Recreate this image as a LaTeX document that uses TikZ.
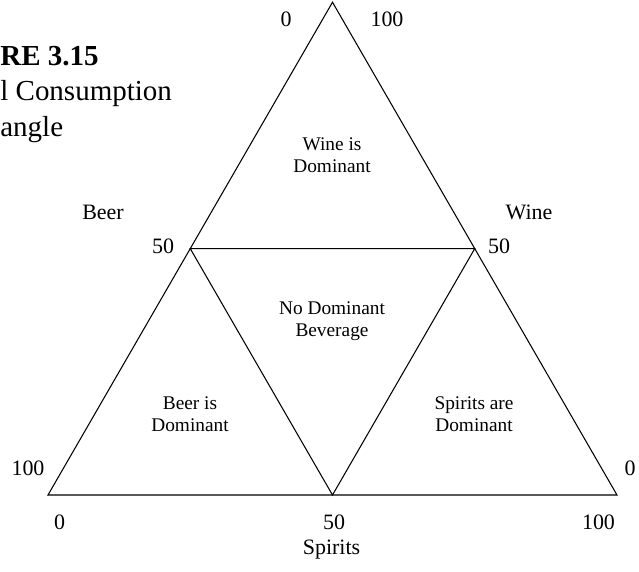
\documentclass[tikz,border=0pt]{standalone}
\usepackage{fontspec}
\setmainfont{Liberation Serif}
\begin{document}
\begin{tikzpicture}
      \useasboundingbox (0,0) rectangle (12.78,11.42);
      \tikzstyle{every node} = [inner sep = 0pt, font = \fontsize{12.5}{15}\selectfont]
      \tikzstyle{lbl} = [anchor = base]
      \tikzstyle{zone} = [align = center, font = \fontsize{11}{12.7}\selectfont]
      \tikzstyle{title} = [anchor = base west, align = left, font = \fontsize{16.5}{20.1}\selectfont]

      \coordinate(L) at (0.96,1.52);
      \coordinate(R) at (12.34,1.52);
      \coordinate(T) at (6.65,11.375);
      \coordinate(ML) at (3.805,6.4475);
      \coordinate(MR) at (9.495,6.4475);
      \coordinate(MB) at (6.65,1.52);

      \draw[line width = 0.6pt] (L) -- (T) -- (R) -- cycle;
      \draw[line width = 0.6pt] (ML) -- (MR) -- (MB) -- cycle;

      \node[title](fig) at (0,8.7) {\textbf{RE 3.15}\\l Consumption\\angle};

      \node[lbl](t0) at (5.72,10.89) {0};
      \node[lbl](t100) at (7.74,10.89) {100};
      \node[lbl](beer) at (2.06,7.04) {Beer};
      \node[lbl](wine) at (10.58,7.04) {Wine};
      \node[lbl](l50) at (3.26,6.36) {50};
      \node[lbl](r50) at (9.98,6.36) {50};
      \node[lbl](l100) at (0.56,1.92) {100};
      \node[lbl](r0) at (12.6,1.92) {0};
      \node[lbl](b0) at (1.19,0.84) {0};
      \node[lbl](b50) at (6.68,0.84) {50};
      \node[lbl](b100) at (11.97,0.84) {100};
      \node[lbl](spirits) at (6.63,0.33) {Spirits};

      \node[zone](wdom) at (6.64,8.32) {Wine is\\Dominant};
      \node[zone](ndom) at (6.64,4.99) {No Dominant\\Beverage};
      \node[zone](bdom) at (3.8,3.14) {Beer is\\Dominant};
      \node[zone](sdom) at (9.48,3.14) {Spirits are\\Dominant};
    \end{tikzpicture}
\end{document}
